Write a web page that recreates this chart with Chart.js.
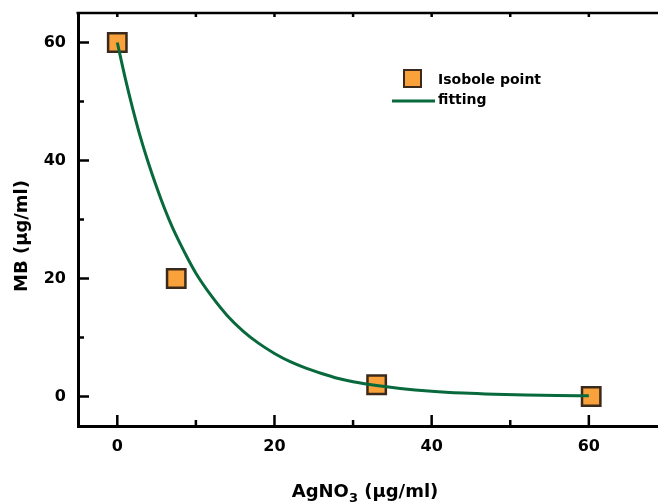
<!DOCTYPE html>
<html>
<head>
<meta charset="utf-8">
<script src="https://cdn.jsdelivr.net/npm/chart.js@4.4.0/dist/chart.umd.min.js"></script>
<style>
  body { margin: 0; background: #fff; }
  canvas { display: block; }
</style>
</head>
<body>
<canvas id="isoboleChart" width="658" height="504"></canvas>
<script>
// measured isobole points
const isoboleX = [0, 7.5, 33, 60.3];
const isoboleY = [60, 20, 2, 0];

// fitted curve
const fitX = [0, 1, 2, 3, 4, 5, 6, 7, 8, 9, 10, 12, 14, 16, 18, 20, 22, 24, 26, 28, 30, 33, 36, 40, 44, 48, 52, 56, 60];
const fitY = [60, 54.0, 48.6, 43.7, 39.4, 35.5, 31.9, 28.7, 25.9, 23.3, 20.9, 17.0, 13.7, 11.1, 9.0, 7.3, 5.9, 4.8, 3.9, 3.1, 2.5, 1.86, 1.36, 0.89, 0.58, 0.38, 0.25, 0.16, 0.11];

const majorTicks = [0, 20, 40, 60];
const minorTicks = [10, 30, 50];
const topTicks = [0, 10, 20, 30, 40, 50, 60];
const legendLabels = ["Isobole point", "fitting"];

const FONT = "'DejaVu Sans', 'Liberation Sans', Arial, sans-serif";
const orange = "#F9A23B";
const brown = "#3b2a1c";
const green = "#07693C";

const toXY = (xs, ys) => xs.map((x, i) => ({ x: x, y: ys[i] }));

// Chart.js reserves room for half labels at the edges; the original plot doesn't
const noEdgePadding = (s) => {
    s.paddingLeft = 0;
    s.paddingRight = 0;
    s.paddingTop = 0;
    s.paddingBottom = 0;
};

const axisDecor = {
    id: "axisDecor",
    afterDraw(chart) {
        const { ctx, chartArea: a, scales: { x, y } } = chart;
        ctx.save();
        ctx.strokeStyle = "#000";
        ctx.lineWidth = 2.5;

        // top frame line
        ctx.beginPath();
        ctx.moveTo(a.left - 1.5, a.top);
        ctx.lineTo(a.right, a.top);
        ctx.stroke();

        ctx.beginPath();
        majorTicks.forEach(v => {
            const px = x.getPixelForValue(v);
            ctx.moveTo(px, a.bottom);
            ctx.lineTo(px, a.bottom - 11);
            const py = y.getPixelForValue(v);
            ctx.moveTo(a.left, py);
            ctx.lineTo(a.left + 11, py);
        });
        minorTicks.forEach(v => {
            const px = x.getPixelForValue(v);
            ctx.moveTo(px, a.bottom);
            ctx.lineTo(px, a.bottom - 6);
            const py = y.getPixelForValue(v);
            ctx.moveTo(a.left, py);
            ctx.lineTo(a.left + 6, py);
        });
        topTicks.forEach(v => {
            const px = x.getPixelForValue(v);
            ctx.moveTo(px, a.top);
            ctx.lineTo(px, a.top + 4);
        });
        ctx.stroke();

        // legend
        ctx.fillStyle = orange;
        ctx.strokeStyle = brown;
        ctx.lineWidth = 2;
        ctx.fillRect(404, 70, 17, 17);
        ctx.strokeRect(404, 70, 17, 17);
        ctx.strokeStyle = green;
        ctx.lineWidth = 3;
        ctx.beginPath();
        ctx.moveTo(392, 101);
        ctx.lineTo(435, 101);
        ctx.stroke();
        ctx.fillStyle = "#000";
        ctx.font = "bold 14px " + FONT;
        ctx.textBaseline = "alphabetic";
        ctx.textAlign = "left";
        ctx.fillText(legendLabels[0], 438, 84);
        ctx.fillText(legendLabels[1], 438, 104);

        // x title with subscript
        ctx.font = "bold 18px " + FONT;
        const p1 = "AgNO", p3 = " (\u03bcg/ml)";
        const w1 = ctx.measureText(p1).width, w3 = ctx.measureText(p3).width;
        ctx.font = "bold 13px " + FONT;
        const w2 = ctx.measureText("3").width;
        let tx = 365 - (w1 + w2 + w3) / 2;
        ctx.font = "bold 18px " + FONT;
        ctx.fillText(p1, tx, 497);
        ctx.font = "bold 13px " + FONT;
        ctx.fillText("3", tx + w1, 502);
        ctx.font = "bold 18px " + FONT;
        ctx.fillText(p3, tx + w1 + w2, 497);

        // y title
        ctx.translate(22, 236);
        ctx.rotate(-Math.PI / 2);
        ctx.textAlign = "center";
        ctx.textBaseline = "middle";
        ctx.fillText("MB (\u03bcg/ml)", 0, 0);
        ctx.restore();
    }
};

new Chart(document.getElementById("isoboleChart"), {
    type: "scatter",
    data: {
        datasets: [
            {
                label: legendLabels[0],
                data: toXY(isoboleX, isoboleY),
                pointStyle: "rect",
                pointRadius: 13,
                pointHoverRadius: 13,
                backgroundColor: orange,
                borderColor: brown,
                borderWidth: 2.5,
                order: 2
            },
            {
                label: legendLabels[1],
                data: toXY(fitX, fitY),
                showLine: true,
                pointRadius: 0,
                borderColor: green,
                borderWidth: 3,
                cubicInterpolationMode: "monotone",
                order: 1
            }
        ]
    },
    options: {
        responsive: false,
        animation: false,
        layout: { autoPadding: false, padding: { top: 13, right: 0, bottom: 0, left: 0 } },
        plugins: {
            legend: { display: false },
            tooltip: { enabled: false }
        },
        scales: {
            x: {
                type: "linear",
                min: -5,
                max: 68.8,
                grid: { display: false, drawTicks: false },
                border: { display: true, color: "#000", width: 3 },
                afterFit: s => { s.height = 78; noEdgePadding(s); },
                afterBuildTicks: s => { s.ticks = majorTicks.map(v => ({ value: v })); },
                ticks: {
                    color: "#000",
                    padding: 11,
                    font: { family: FONT, size: 16, weight: "bold" }
                }
            },
            y: {
                min: -5,
                max: 65,
                grid: { display: false, drawTicks: false },
                border: { display: true, color: "#000", width: 3 },
                afterFit: s => { s.width = 78; noEdgePadding(s); },
                afterBuildTicks: s => { s.ticks = majorTicks.map(v => ({ value: v })); },
                ticks: {
                    color: "#000",
                    padding: 12,
                    font: { family: FONT, size: 16, weight: "bold" }
                }
            }
        }
    },
    plugins: [axisDecor]
});
</script>
</body>
</html>
